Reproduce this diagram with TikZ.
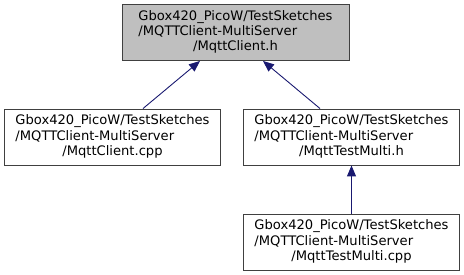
\documentclass[tikz,border=0pt]{standalone}
\usepackage{fontspec}
\setmainfont{DejaVu Sans}
\usetikzlibrary{arrows.meta, calc}

\definecolor{edgeblue}{HTML}{191970}
\definecolor{boxgray}{HTML}{BFBFBF}
\definecolor{boxline}{HTML}{404040}

\newcommand{\filepath}[3]{\begin{tabular}{@{}l@{}}#1\\#2\\\multicolumn{1}{@{}c@{}}{#3}\end{tabular}}

\tikzset{
	file/.style = {draw = boxline, line width = 0.9pt, fill = white, minimum width = 216pt, minimum height = 56pt, inner sep = 0pt, font = \fontsize{13.1}{15.3}\selectfont},
	current/.style = {file, fill = boxgray, minimum width = 227pt},
	edge/.style = {edgeblue, line width = 0.9pt, {Triangle[length = 11pt, width = 9pt]}-}
}

\begin{document}
\begin{tikzpicture}[x = 1pt, y = 1pt]
	\useasboundingbox (0,0) rectangle (464,275);
	\node[current] (mqttclienth) at (235.5,242.5) {\filepath{Gbox420\_PicoW/TestSketches}{/MQTTClient-MultiServer}{/MqttClient.h}\hspace{9pt}};
	\node[file] (mqttclientcpp) at (112.5,138) {\filepath{Gbox420\_PicoW/TestSketches}{/MQTTClient-MultiServer}{/MqttClient.cpp}};
	\node[file] (mqtttestmultih) at (351.5,138) {\filepath{Gbox420\_PicoW/TestSketches}{/MQTTClient-MultiServer}{/MqttTestMulti.h}};
	\node[file] (mqtttestmulticpp) at (351.5,33) {\filepath{Gbox420\_PicoW/TestSketches}{/MQTTClient-MultiServer}{/MqttTestMulti.cpp}};
	\draw[edge] ($(mqttclienth.south)+(-35.5,0)$) -- ($(mqttclientcpp.north)+(30.5,0)$);
	\draw[edge] ($(mqttclienth.south)+(27.5,0)$) -- ($(mqtttestmultih.north)+(-31.5,0)$);
	\draw[edge] (mqtttestmultih.south) -- (mqtttestmulticpp.north);
\end{tikzpicture}
\end{document}
